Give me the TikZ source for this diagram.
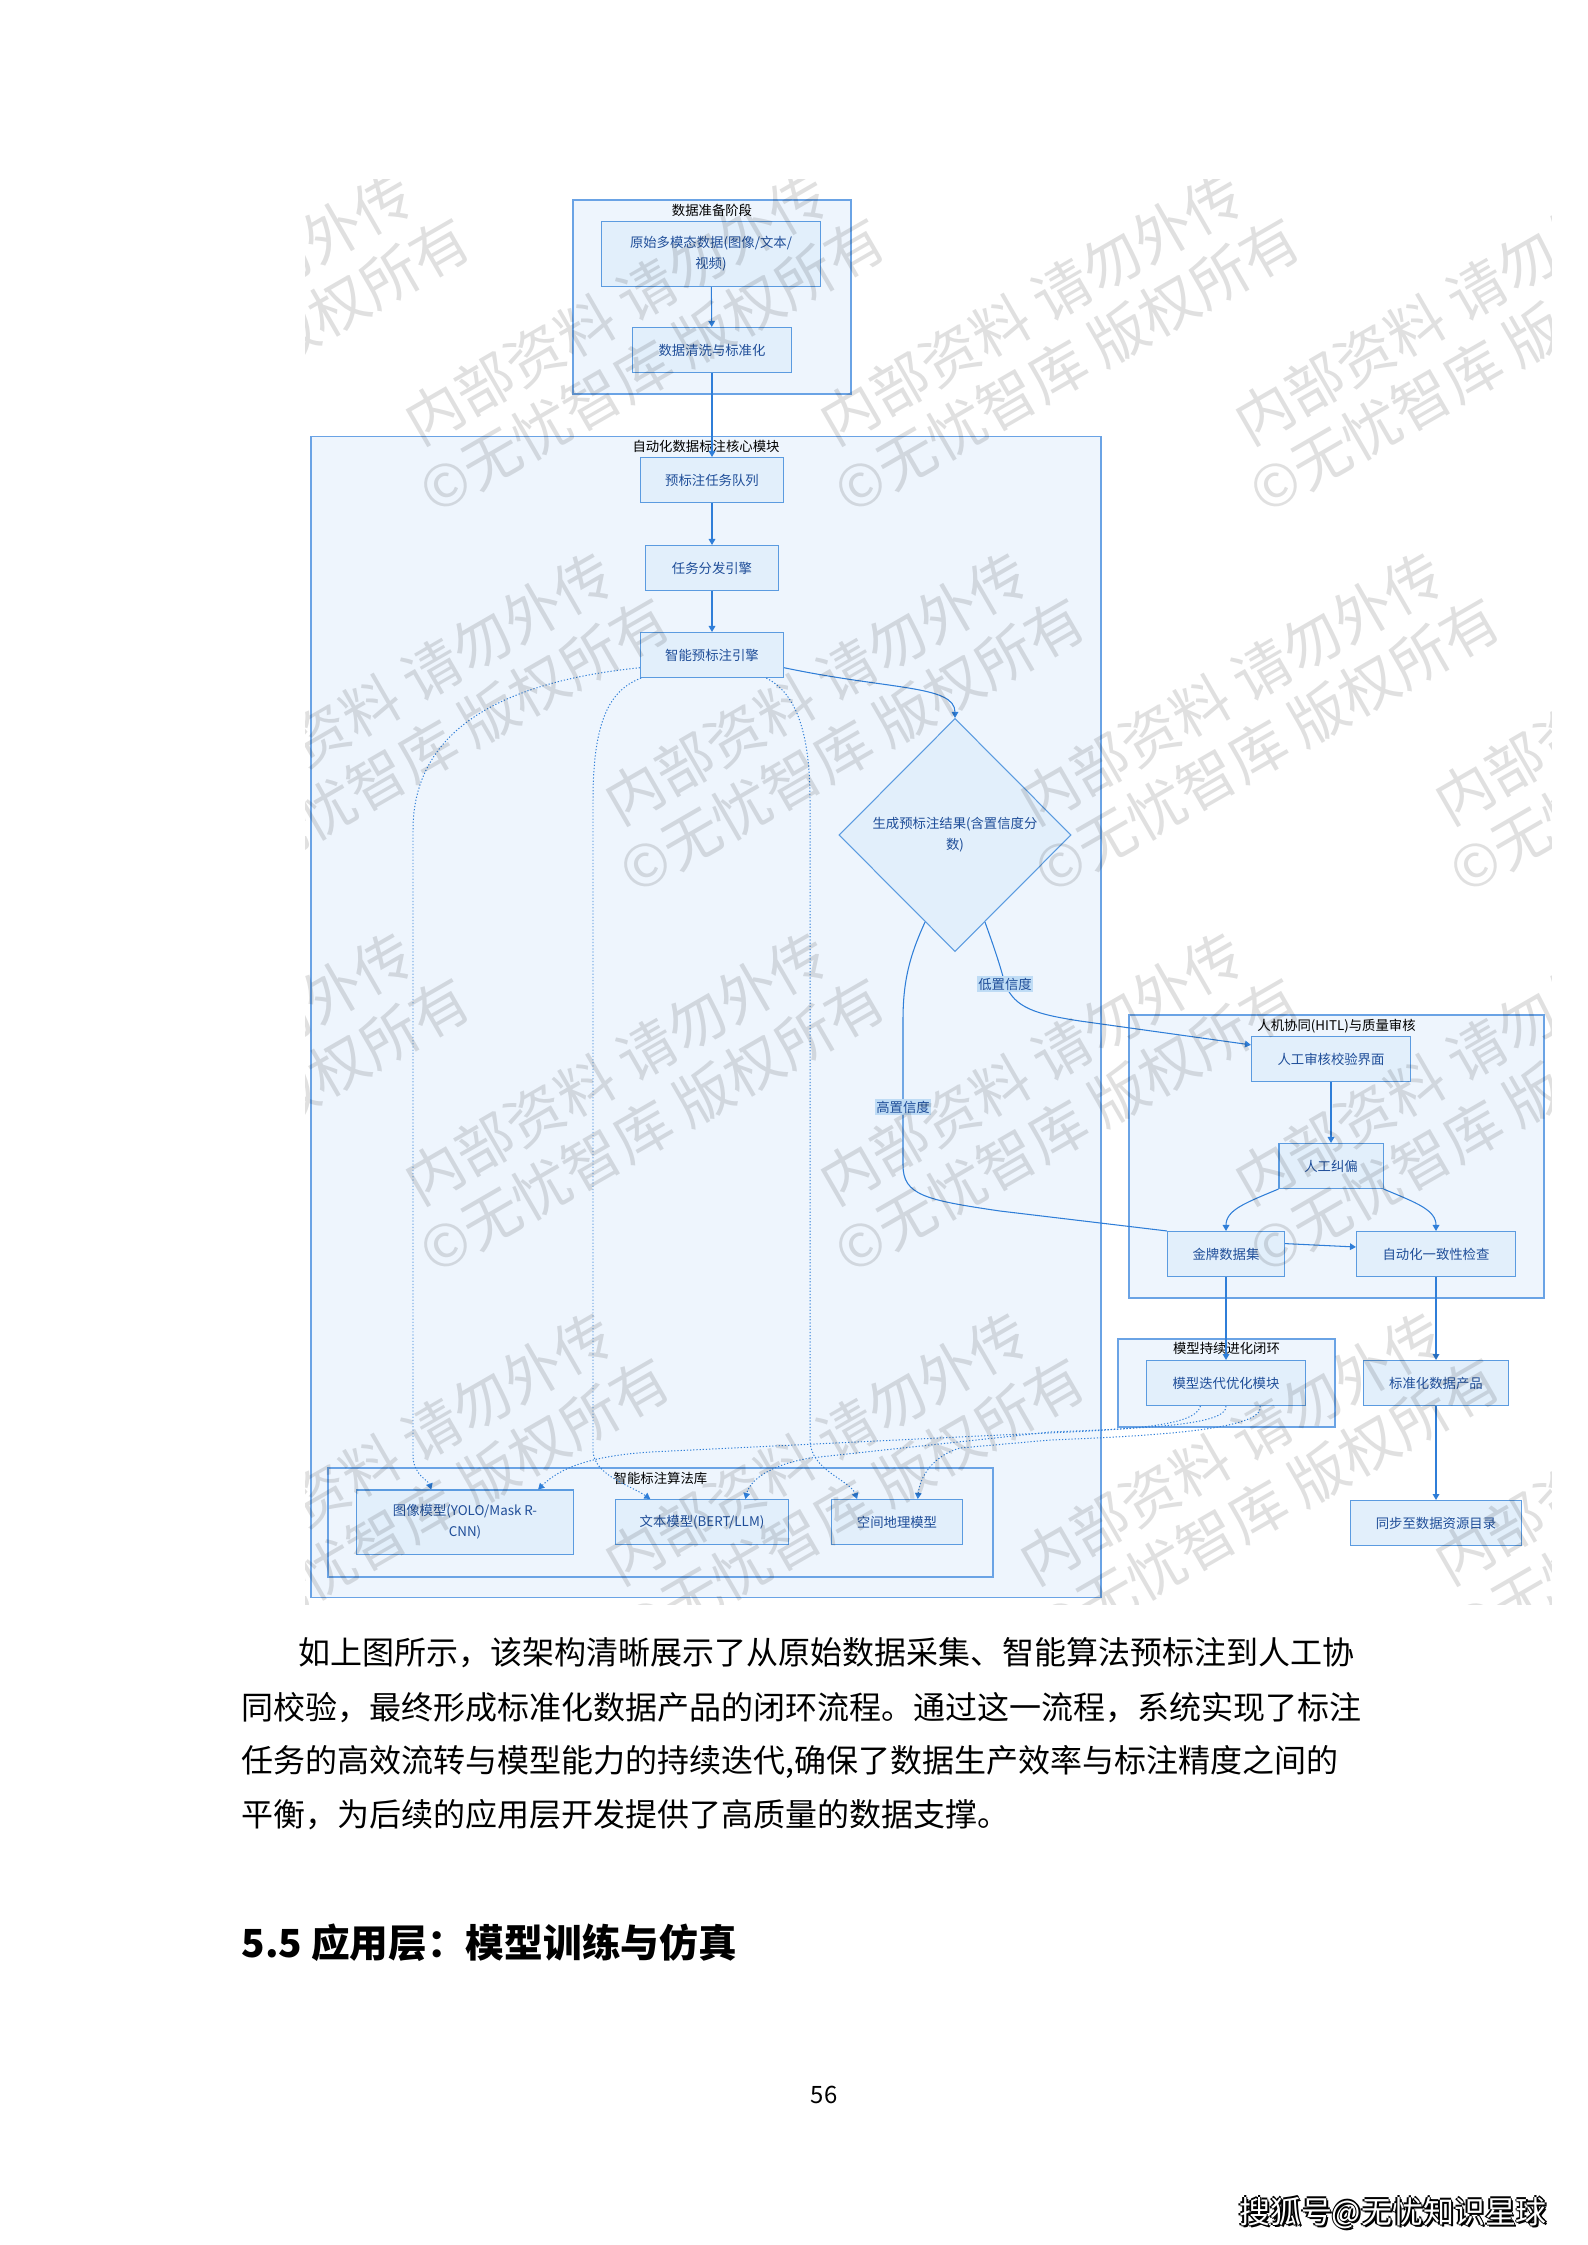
\documentclass[tikz,border=0pt]{standalone}
\usepackage{fontspec}
\setmainfont{Noto Sans CJK SC}
\usepackage{xcolor}
\usepackage{tikz}
\usetikzlibrary{shapes.geometric, arrows.meta, positioning, calc}

\definecolor{nodefill}{HTML}{E2EFFB}
\definecolor{nodeline}{HTML}{5B9BE0}
\definecolor{grpfill}{HTML}{EEF5FD}
\definecolor{grpline}{HTML}{6AA3E5}
\definecolor{edgeblue}{HTML}{2F7ED8}
\definecolor{textblue}{HTML}{1F4E99}
\definecolor{lblfill}{HTML}{BFDCF5}

\newcommand{\diagfont}{\fontsize{3.8}{5.9}\selectfont}

\begin{document}
\begin{tikzpicture}[
    x=0.01cm, y=-0.01cm,
    box/.style={rectangle, draw=nodeline, fill=nodefill, line width=0.3pt, text=textblue, font=\diagfont, align=center, minimum height=0.45cm, inner sep=0pt},
    grp/.style={rectangle, draw=grpline, fill=grpfill, line width=0.45pt, inner sep=0pt},
    gtitle/.style={font=\diagfont, text=black, inner sep=0.5pt},
    decide/.style={diamond, draw=nodeline, fill=nodefill, line width=0.3pt, text=textblue, font=\diagfont, align=center, minimum width=2.32cm, minimum height=2.33cm, inner sep=0pt},
    lbl/.style={fill=lblfill, text=textblue, font=\diagfont, inner sep=0.5pt},
    plain/.style={draw=edgeblue, line width=0.3pt},
    flow/.style={plain, -{Triangle[length=1.7pt,width=1.9pt]}},
    dflow/.style={flow, line width=0.28pt, dash pattern=on 0.35pt off 0.55pt},
    para/.style={font=\fontsize{9.1}{11}\selectfont, inner sep=0pt, anchor=west},
    wm/.style={font=\fontsize{16.5}{18}\selectfont, text=black, text opacity=0.12, rotate=30, inner sep=0pt}
]
\useasboundingbox (0,0) rectangle (1587,2245);
\fill[white] (0,0) rectangle (1587,2245);

% groups
\node[grp, minimum width=2.78cm, minimum height=1.94cm] (prep) at (712,297) {};
\node[grp, minimum width=7.90cm, minimum height=11.60cm] (core) at (706,1017) {};
\node[grp, minimum width=6.65cm, minimum height=1.09cm] (algo) at (660.5,1522.5) {};
\node[grp, minimum width=4.15cm, minimum height=2.83cm] (hitl) at (1336.5,1156.5) {};
\node[grp, minimum width=2.17cm, minimum height=0.88cm] (evolve) at (1226.5,1383) {};

\node[gtitle, below=0.6pt of prep.north] (preptitle) {数据准备阶段};
\node[gtitle, below=0.6pt of core.north] (coretitle) {自动化数据标注核心模块};
\node[gtitle, below=0.6pt of algo.north] (algotitle) {智能标注算法库};
\node[gtitle, below=0.6pt of hitl.north] (hitltitle) {人机协同(HITL)与质量审核};
\node[gtitle, below=0.6pt of evolve.north] (evolvetitle) {模型持续进化闭环};

% nodes
\node[box, minimum width=2.19cm, minimum height=0.65cm] (raw) at (711,254) {原始多模态数据(图像/文本/\\视频)};
\node[box, minimum width=1.58cm] (clean) at (712,350) {数据清洗与标准化};
\node[box, minimum width=1.43cm] (queue) at (712,480) {预标注任务队列};
\node[box, minimum width=1.32cm] (dispatch) at (712,568) {任务分发引擎};
\node[box, minimum width=1.43cm] (engine) at (712,655) {智能预标注引擎};
\node[decide] (diam) at (955,835) {生成预标注结果(含置信度分\\数)};
\node[box, minimum width=1.59cm] (review) at (1331,1059) {人工审核校验界面};
\node[box, minimum width=1.04cm] (fix) at (1331,1166) {人工纠偏};
\node[box, minimum width=1.17cm] (gold) at (1226,1254) {金牌数据集};
\node[box, minimum width=1.59cm] (check) at (1436,1254) {自动化一致性检查};
\node[box, minimum width=1.58cm] (iter) at (1226,1383) {模型迭代优化模块};
\node[box, minimum width=1.45cm] (product) at (1436,1383) {标准化数据产品};
\node[box, minimum width=1.71cm] (sync) at (1436,1523) {同步至数据资源目录};
\node[box, minimum width=2.17cm, minimum height=0.64cm] (img) at (465,1522) {图像模型(YOLO/Mask R-\\CNN)};
\node[box, minimum width=1.73cm] (txt) at (702,1522) {文本模型(BERT/LLM)};
\node[box, minimum width=1.30cm] (geo) at (897,1522) {空间地理模型};

% main flow
\draw[flow] (raw) -- (clean);
\draw[flow] (clean) -- (queue);
\draw[flow] (queue) -- (dispatch);
\draw[flow] (dispatch) -- (engine);
\draw[flow] (engine.-10) .. controls (890,690) and (955,685) .. (diam.north);
\draw[flow] (diam.-71) .. controls (995,950) and (1000,965) .. (1005,984) node[lbl] {低置信度}
    .. controls (1015,1008) and (1035,1014) .. (1080,1021) -- (review.170);
\draw[plain] (diam.-109) .. controls (910,955) and (903,980) .. (903,1020)
    -- node[lbl, pos=0.6] {高置信度} (903,1165)
    .. controls (903,1195) and (925,1200) .. (1000,1211) -- (gold.north west);

% review loop
\draw[flow] (review) -- (fix);
\draw[flow] (fix.south west) .. controls (1245,1203) and (1226,1210) .. (gold.north);
\draw[flow] (fix.south east) .. controls (1417,1203) and (1436,1210) .. (check.north);
\draw[flow] (gold.10) -- (check.175);
\draw[flow] (gold) -- (iter);
\draw[flow] (check) -- (product);
\draw[flow] (product) -- (sync);

% algorithm calls
\draw[dflow] (engine.190) .. controls (520,680) and (413,720) .. (413,830) -- (413,1455)
    .. controls (413,1475) and (428,1480) .. (img.136);
\draw[dflow] (engine.-162) .. controls (610,690) and (593,720) .. (593,800) -- (593,1450)
    .. controls (593,1475) and (630,1485) .. (txt.156);
\draw[dflow] (engine.-23) .. controls (790,690) and (810,720) .. (810,800) -- (810,1440)
    .. controls (810,1470) and (850,1480) .. (geo.150);
\draw[dflow] (iter.-138) .. controls (1195,1428) and (1120,1430) .. (1000,1435) -- (650,1452)
    .. controls (590,1456) and (560,1468) .. (img.24);
\draw[dflow] (iter.south) .. controls (1227,1425) and (1150,1428) .. (1050,1432) -- (810,1458)
    .. controls (770,1465) and (750,1480) .. (txt.28);
\draw[dflow] (iter.-34) .. controls (1265,1430) and (1150,1436) .. (1050,1440) -- (960,1448)
    .. controls (935,1455) and (920,1475) .. (geo.48);

% watermark
\begin{scope}
\clip (305,179) rectangle (1551,1604);
\foreach \wx/\wy in {201/308, 616/308, 1031/308, 1446/308,
                     401/688, 816/688, 1231/688, 1646/688,
                     201/1068, 616/1068, 1031/1068, 1446/1068,
                     401/1448, 816/1448, 1231/1448, 1646/1448} {
  \node[wm] at (\wx,\wy) {内部资料 请勿外传};
  \node[wm] at (\wx+36,\wy+57) {©无忧智库 版权所有};
}
\end{scope}

% page text
\node[para] (p1) at (298,1653) {如上图所示，该架构清晰展示了从原始数据采集、智能算法预标注到人工协};
\node[para] (p2) at (241,1708) {同校验，最终形成标准化数据产品的闭环流程。通过这一流程，系统实现了标注};
\node[para] (p3) at (241,1762) {任务的高效流转与模型能力的持续迭代,确保了数据生产效率与标注精度之间的};
\node[para] (p4) at (241,1815) {平衡，为后续的应用层开发提供了高质量的数据支撑。};
\node[anchor=west, inner sep=0pt, font=\fontsize{11}{13}\selectfont\bfseries] (sec) at (241,1943) {5.5 应用层：模型训练与仿真};
\node[inner sep=0pt, font=\fontsize{6.8}{8}\selectfont] (pageno) at (824,2095) {56};

% footer
\foreach \dx/\dy in {-1.5/0, 1.5/0, 0/-1.5, 0/1.5, 2/2} {
  \node[inner sep=0pt, font=\fontsize{8.8}{10}\selectfont, text=black] at (1393+\dx,2213+\dy) {搜狐号@无忧知识星球};
}
\node[inner sep=0pt, font=\fontsize{8.8}{10}\selectfont, text=white] (sohu) at (1393,2213) {搜狐号@无忧知识星球};

\end{tikzpicture}
\end{document}
